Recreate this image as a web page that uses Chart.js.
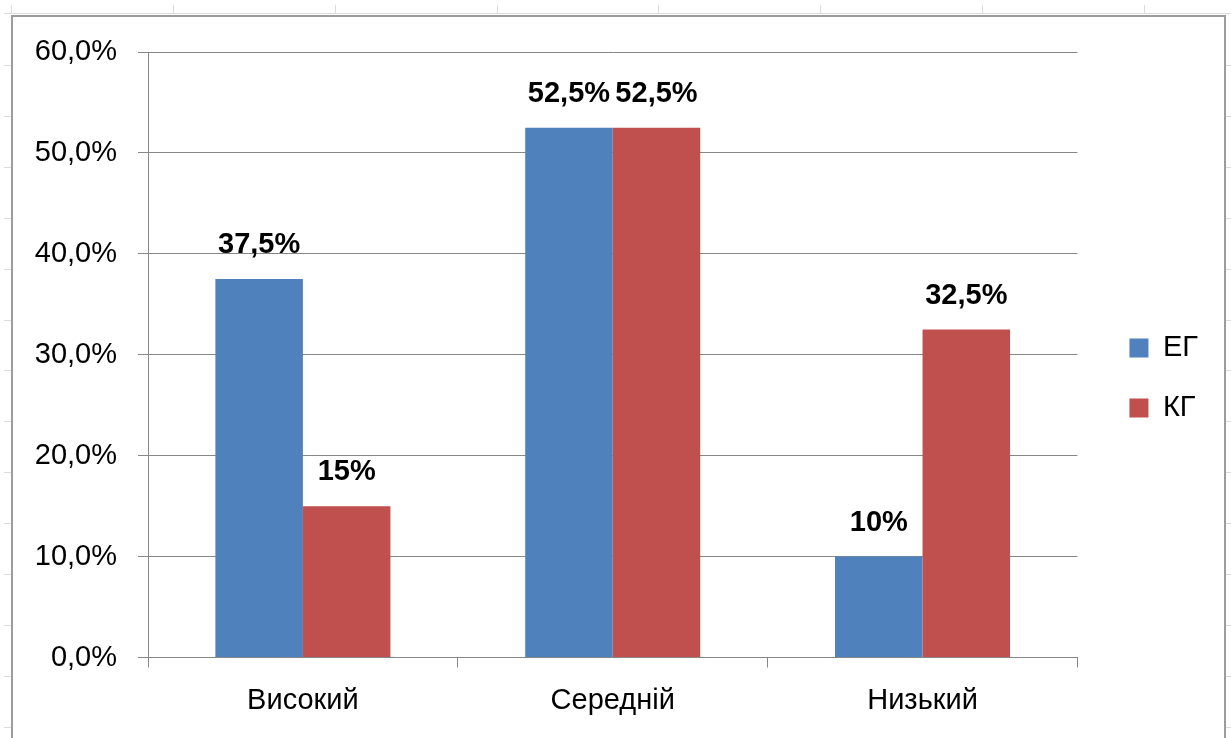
<!DOCTYPE html>
<html>
<head>
<meta charset="utf-8">
<script src="https://cdn.jsdelivr.net/npm/chart.js@4/dist/chart.umd.min.js"></script>
<style>
  html, body { margin: 0; padding: 0; background: #ffffff; overflow: hidden; }
  body { width: 1231px; height: 738px; position: relative; }
  .sheet { position: absolute; background: #dcdcdc; }
  #frame { position: absolute; left: 11px; top: 15px; width: 1211px; height: 800px;
           border: 2px solid #9c9c9c; background: #ffffff; }
  #wrap { position: absolute; left: 13px; top: 17px; width: 1211px; height: 721px; }
</style>
</head>
<body>
<div id="frame"></div>
<div id="wrap"><canvas id="c"></canvas></div>
<script>
// ---- data ----
const categories = ['Високий', 'Середній', 'Низький'];
const seriesNames = ['ЕГ', 'КГ'];
const egValues = [37.5, 52.5, 10];
const kgValues = [15, 52.5, 32.5];
const egLabels = ['37,5%', '52,5%', '10%'];
const kgLabels = ['15%', '52,5%', '32,5%'];
const yTickLabels = ['0,0%', '10,0%', '20,0%', '30,0%', '40,0%', '50,0%', '60,0%'];

// ---- spreadsheet background (decoration) ----
(function () {
  const add = (l, t, w, h) => {
    const d = document.createElement('div');
    d.className = 'sheet';
    d.style.left = l + 'px'; d.style.top = t + 'px';
    d.style.width = w + 'px'; d.style.height = h + 'px';
    document.body.insertBefore(d, document.body.firstChild);
  };
  add(4, 13, 1227, 1);
  add(11, 5, 1, 9);
  for (let k = 0; k < 7; k++) add(Math.round(173 + k * 161.8), 5, 1, 9);
  for (let k = 0; k < 14; k++) {
    const y = Math.round(65 + k * 50.9);
    add(4, y, 7, 1);
    add(1226, y, 5, 1);
  }
})();

const FONT = "'Liberation Sans', Arial, sans-serif";
const GRID = '#878787';

const barLabels = {
  id: 'barLabels',
  afterDatasetsDraw(chart) {
    const ctx = chart.ctx;
    const sets = [egLabels, kgLabels];
    ctx.save();
    ctx.font = 'bold 29px ' + FONT;
    ctx.fillStyle = '#000';
    ctx.textAlign = 'center';
    ctx.textBaseline = 'alphabetic';
    chart.data.datasets.forEach((ds, d) => {
      chart.getDatasetMeta(d).data.forEach((el, i) => {
        ctx.fillText(sets[d][i], el.x, el.y - 26);
      });
    });
    ctx.restore();
  }
};

new Chart(document.getElementById('c'), {
  type: 'bar',
  data: {
    labels: categories,
    datasets: [
      { label: seriesNames[0], data: egValues, backgroundColor: '#4F81BD', xAxisID: 'x', yAxisID: 'y' },
      { label: seriesNames[1], data: kgValues, backgroundColor: '#C0504D', xAxisID: 'x', yAxisID: 'y' }
    ]
  },
  options: {
    responsive: true,
    maintainAspectRatio: false,
    animation: false,
    datasets: { bar: { categoryPercentage: 0.565, barPercentage: 1.0 } },
    layout: { padding: { top: 1, left: 0, right: 16, bottom: 0 } },
    plugins: {
      tooltip: { enabled: false },
      legend: {
        position: 'right',
        labels: {
          font: { family: FONT, size: 29 },
          color: '#000',
          boxWidth: 19,
          boxHeight: 19,
          padding: 31
        }
      }
    },
    scales: {
      x: {
        grid: { display: true, drawOnChartArea: false, drawTicks: true, tickLength: 10, color: GRID, offset: true },
        border: { display: true, color: GRID, width: 1 },
        ticks: { font: { family: FONT, size: 29 }, color: '#000', padding: 16, maxRotation: 0 },
        afterFit(scale) { scale.height = 80.5; }
      },
      xTop: {
        type: 'category',
        labels: categories,
        position: 'top',
        display: true,
        grid: { display: false },
        border: { display: false },
        ticks: { display: false },
        afterFit(scale) { scale.height = 34; }
      },
      y: {
        min: 0, max: 60,
        ticks: {
          stepSize: 10,
          font: { family: FONT, size: 29 }, color: '#000', padding: 21,
          callback: (v, i) => yTickLabels[i]
        },
        grid: { color: GRID, tickLength: 10, drawTicks: true },
        border: { display: true, color: GRID, width: 1 },
        afterFit(scale) { scale.width = 135; scale.paddingTop = 17; scale.paddingBottom = 17; }
      },
      yRight: {
        position: 'right',
        display: true,
        grid: { display: false },
        border: { display: false },
        ticks: { display: false },
        afterFit(scale) { scale.width = 21; }
      }
    }
  },
  plugins: [barLabels]
});
</script>
</body>
</html>
